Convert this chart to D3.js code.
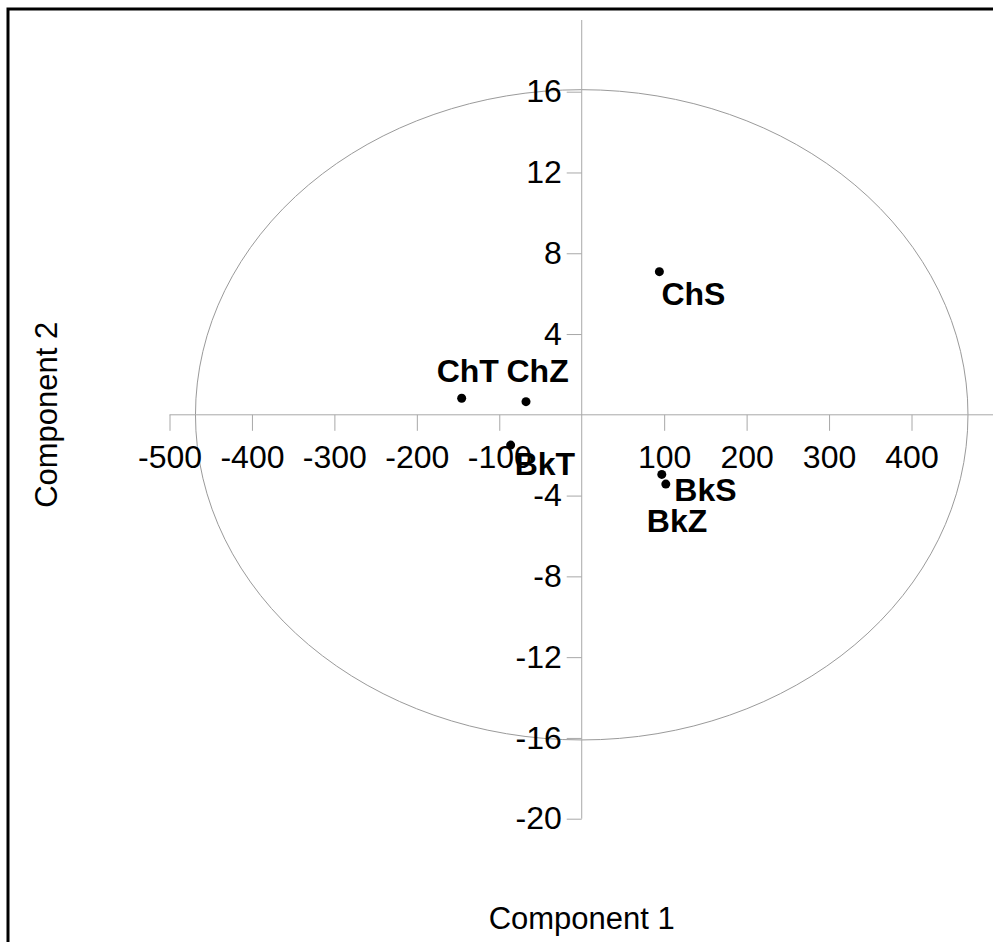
<!DOCTYPE html>
<html>
<head>
<meta charset="utf-8">
<script src="https://cdn.jsdelivr.net/npm/d3@7/dist/d3.min.js"></script>
<style>
  html, body { margin: 0; padding: 0; background: #fff; }
  svg { display: block; }
  text { font-family: "Liberation Sans", Arial, sans-serif; }
</style>
</head>
<body>
<svg id="chart" width="993" height="942"></svg>
<script>
// Sample scores on the first two principal components
const samples = ["ChS", "ChT", "ChZ", "BkT", "BkZ", "BkS"];
const comp1 = [94.2, -145.6, -67.6, -86.2, 97.1, 102.0];
const comp2 = [7.09, 0.82, 0.65, -1.50, -2.95, -3.43];

// Tick values for both axes
const xTicks = [-500, -400, -300, -200, -100, 100, 200, 300, 400];
const yTicks = [16, 12, 8, 4, -4, -8, -12, -16, -20];

// Confidence ellipse half-axes (component units)
const ellipseRadii = [468.5, 16.1];

// Label placement relative to each point (px)
const labelShift = {
  ChS: [2, 33],
  ChT: [-25, -16.5],
  ChZ: [-19.5, -20],
  BkT: [4, 30],
  BkZ: [-15, 58],
  BkS: [8.5, 17]
};

const svg = d3.select("#chart");

const x = d3.scaleLinear().domain([-500, 400]).range([169.5, 911.5]);
const y = d3.scaleLinear().domain([-20, 16]).range([818.7, 91.7]);

const axisColor = "#a8a8a8";
const plain = d => String(d);   // keep ASCII hyphen for negatives

// Frame
svg.append("rect")
  .attr("x", 8).attr("y", 9)
  .attr("width", 1100).attr("height", 1100)
  .attr("fill", "none").attr("stroke", "#000").attr("stroke-width", 3);

// Ellipse centred on the origin
svg.append("ellipse")
  .attr("cx", x(0)).attr("cy", y(0))
  .attr("rx", x(ellipseRadii[0]) - x(0))
  .attr("ry", y(0) - y(ellipseRadii[1]))
  .attr("fill", "none").attr("stroke", "#9a9a9a").attr("stroke-width", 1);

// Horizontal axis through y = 0
const xAxis = d3.axisBottom(x)
  .tickValues(xTicks)
  .tickSize(16)
  .tickPadding(14)
  .tickFormat(plain);

const gx = svg.append("g")
  .attr("transform", `translate(0,${y(0)})`)
  .call(xAxis);
gx.select(".domain").remove();
gx.append("line")
  .attr("x1", x(-500)).attr("x2", x(500))
  .attr("y1", 0).attr("y2", 0)
  .attr("stroke", axisColor);
gx.selectAll(".tick line").attr("stroke", axisColor);
gx.selectAll(".tick text")
  .attr("fill", "#000")
  .attr("font-size", 32)
  .attr("font-family", "Liberation Sans, Arial, sans-serif");

// Vertical axis through x = 0
const yAxis = d3.axisLeft(y)
  .tickValues(yTicks)
  .tickSize(15)
  .tickPadding(5)
  .tickFormat(plain);

const gy = svg.append("g")
  .attr("transform", `translate(${x(0)},0)`)
  .call(yAxis);
gy.select(".domain").remove();
gy.append("line")
  .attr("x1", 0).attr("x2", 0)
  .attr("y1", y(-20)).attr("y2", y(19.55))
  .attr("stroke", axisColor);
gy.selectAll(".tick line").attr("stroke", axisColor);
gy.selectAll(".tick text")
  .attr("fill", "#000")
  .attr("font-size", 32)
  .attr("font-family", "Liberation Sans, Arial, sans-serif");

// Points and labels
const rows = samples.map((s, i) => ({ name: s, c1: comp1[i], c2: comp2[i] }));

svg.append("g").selectAll("circle")
  .data(rows).join("circle")
  .attr("cx", d => x(d.c1))
  .attr("cy", d => y(d.c2))
  .attr("r", 4.5)
  .attr("fill", "#000");

svg.append("g").selectAll("text")
  .data(rows).join("text")
  .attr("x", d => x(d.c1) + labelShift[d.name][0])
  .attr("y", d => y(d.c2) + labelShift[d.name][1])
  .attr("font-size", 32)
  .attr("font-weight", "bold")
  .attr("fill", "#000")
  .text(d => d.name);

// Axis titles
svg.append("text")
  .attr("x", x(0)).attr("y", 929)
  .attr("text-anchor", "middle")
  .attr("font-size", 31)
  .attr("fill", "#000")
  .text("Component 1");

svg.append("text")
  .attr("transform", `translate(57,${y(0)}) rotate(-90)`)
  .attr("text-anchor", "middle")
  .attr("font-size", 31)
  .attr("fill", "#000")
  .text("Component 2");
</script>
</body>
</html>
